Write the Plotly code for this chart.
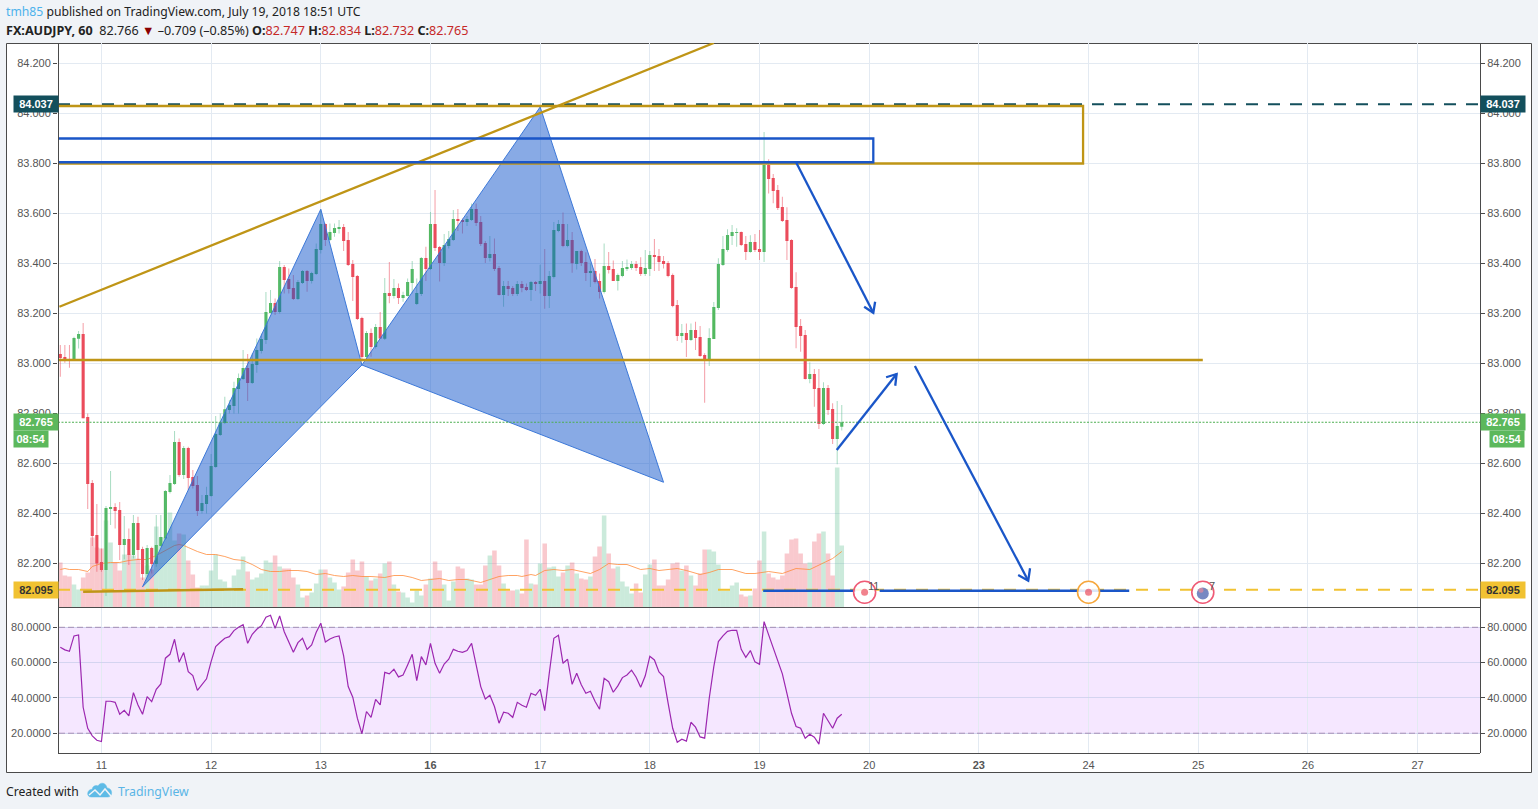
import plotly.graph_objects as go

# ---------- data ----------
OPEN = [83.038,83.026,83.018,83.014,83.099,83.118,82.786,82.522,82.314,82.206,
82.174,82.418,82.426,82.414,82.274,82.298,82.234,82.362,82.258,82.158,
82.262,82.198,82.27,82.3,82.486,82.518,82.686,82.554,82.662,82.546,
82.514,82.41,82.438,82.47,82.586,82.714,82.762,82.814,82.83,82.898,
82.938,82.982,82.922,82.994,83.05,83.094,83.202,83.242,83.206,83.386,
83.338,83.302,83.258,83.322,83.37,83.33,83.358,83.454,83.558,83.494,
83.522,83.538,83.546,83.494,83.398,83.35,83.182,83.026,83.122,83.066,
83.146,83.099,83.282,83.27,83.302,83.262,83.27,83.322,83.238,83.278,
83.422,83.378,83.558,83.466,83.402,83.47,83.494,83.578,83.574,83.566,
83.574,83.618,83.566,83.482,83.422,83.438,83.382,83.274,83.31,83.302,
83.278,83.318,83.306,83.294,83.326,83.318,83.33,83.27,83.346,83.53,
83.558,83.47,83.494,83.398,83.45,83.406,83.362,83.37,83.33,83.286,
83.39,83.378,83.33,83.35,83.378,83.382,83.398,83.386,83.358,83.378,
83.434,83.43,83.41,83.402,83.354,83.234,83.11,83.122,83.094,83.134,
83.106,83.034,83.017,83.098,83.222,83.394,83.454,83.51,83.524,83.526,
83.478,83.446,83.486,83.458,83.446,83.794,83.742,83.694,83.626,83.574,
83.494,83.306,83.15,83.114,82.938,82.958,82.902,82.758,82.902,82.818,
82.698,82.747]
CLOSE = [83.022,83.014,83.011,83.102,83.118,82.781,82.518,82.31,82.2,82.174,
82.422,82.426,82.41,82.274,82.298,82.234,82.362,82.254,82.158,82.262,
82.198,82.274,82.306,82.49,82.522,82.686,82.554,82.662,82.542,82.51,
82.41,82.442,82.474,82.59,82.718,82.765,82.817,82.834,82.902,82.942,
82.982,82.922,82.998,83.054,83.098,83.206,83.242,83.206,83.386,83.334,
83.298,83.258,83.326,83.37,83.33,83.362,83.458,83.558,83.494,83.526,
83.542,83.546,83.49,83.394,83.346,83.178,83.026,83.122,83.066,83.146,
83.1,83.282,83.27,83.302,83.262,83.274,83.326,83.378,83.282,83.422,
83.378,83.558,83.462,83.402,83.474,83.498,83.578,83.57,83.566,83.578,
83.618,83.562,83.478,83.422,83.438,83.378,83.274,83.31,83.298,83.278,
83.318,83.302,83.294,83.326,83.318,83.33,83.27,83.35,83.534,83.558,
83.47,83.494,83.401,83.45,83.402,83.362,83.37,83.326,83.286,83.39,
83.374,83.33,83.354,83.382,83.386,83.398,83.382,83.358,83.382,83.434,
83.426,83.406,83.398,83.35,83.23,83.11,83.122,83.094,83.134,83.102,
83.03,83.017,83.102,83.226,83.398,83.458,83.514,83.526,83.526,83.474,
83.446,83.486,83.454,83.446,83.794,83.738,83.69,83.622,83.57,83.49,
83.302,83.146,83.11,82.938,82.958,82.898,82.758,82.902,82.814,82.698,
82.75,82.765]
HIGH = [83.074,83.074,83.074,83.107,83.13,83.162,82.8,82.534,82.438,82.26,
82.43,82.57,82.441,82.446,82.39,82.34,82.394,82.387,82.267,82.274,
82.267,82.394,82.394,82.494,82.554,82.73,82.7,82.67,82.667,82.574,
82.55,82.474,82.507,82.638,82.79,82.8,82.867,82.854,82.927,82.96,
83.054,83.038,83.04,83.1,83.12,83.286,83.294,83.26,83.41,83.394,
83.38,83.354,83.334,83.374,83.374,83.367,83.48,83.616,83.56,83.56,
83.56,83.574,83.558,83.526,83.414,83.354,83.187,83.13,83.14,83.158,
83.206,83.342,83.406,83.338,83.32,83.287,83.34,83.41,83.34,83.426,
83.467,83.606,83.694,83.47,83.518,83.53,83.614,83.618,83.58,83.59,
83.64,83.64,83.59,83.49,83.51,83.5,83.39,83.33,83.33,83.31,
83.33,83.33,83.32,83.33,83.33,83.395,83.458,83.37,83.566,83.574,
83.604,83.558,83.526,83.45,83.455,83.445,83.4,83.418,83.36,83.48,
83.446,83.412,83.36,83.41,83.416,83.41,83.41,83.425,83.454,83.45,
83.498,83.458,83.43,83.41,83.36,83.254,83.158,83.16,83.16,83.167,
83.15,83.041,83.141,83.246,83.421,83.51,83.537,83.554,83.541,83.528,
83.51,83.513,83.518,83.534,83.926,83.817,83.758,83.714,83.667,83.625,
83.497,83.365,83.178,83.134,83.005,82.978,82.978,82.925,82.914,82.841,
82.85,82.834]
LOW = [82.947,83.003,82.983,83.011,83.06,82.781,82.418,82.27,82.167,82.167,
82.07,82.354,82.34,82.214,82.217,82.194,82.22,82.214,82.134,82.147,
82.16,82.187,82.267,82.294,82.48,82.514,82.547,82.538,82.494,82.5,
82.39,82.4,82.4,82.467,82.583,82.71,82.758,82.8,82.8,82.8,
82.934,82.85,82.918,82.963,83.04,83.078,83.2,83.194,83.2,83.28,
83.28,83.254,83.254,83.318,83.287,83.32,83.354,83.44,83.47,83.49,
83.507,83.52,83.45,83.39,83.25,83.174,83.014,83.02,83.027,83.06,
83.098,83.094,83.241,83.26,83.238,83.247,83.268,83.28,83.234,83.27,
83.33,83.374,83.45,83.328,83.39,83.46,83.49,83.53,83.52,83.55,
83.57,83.55,83.47,83.402,83.408,83.37,83.272,83.227,83.27,83.27,
83.27,83.285,83.29,83.25,83.29,83.28,83.219,83.222,83.34,83.525,
83.465,83.465,83.363,83.376,83.39,83.33,83.306,83.32,83.26,83.28,
83.36,83.33,83.292,83.345,83.37,83.375,83.37,83.35,83.35,83.35,
83.37,83.37,83.38,83.345,83.225,83.09,83.083,83.026,83.09,83.054,
83.027,82.843,82.99,83.211,83.214,83.39,83.447,83.474,83.467,83.47,
83.414,83.443,83.446,83.414,83.406,83.68,83.641,83.614,83.566,83.414,
83.299,83.061,83.047,82.936,82.921,82.827,82.738,82.754,82.794,82.678,
82.597,82.732]
VOLUME = [45,32,31,23,18,30,35,70,60,59,87,65,45,37,53,53,52,49,30,42,
38,81,70,70,95,67,74,73,47,33,20,22,22,37,53,28,26,20,32,38,
51,36,28,30,34,47,45,52,41,39,39,30,23,10,12,15,24,38,38,30,
25,18,21,35,48,37,46,31,27,29,34,44,46,23,16,15,10,5,17,12,
23,29,46,37,23,7,26,41,39,29,28,23,23,42,52,57,42,24,17,17,
18,14,68,24,23,44,64,40,41,31,35,42,45,34,29,28,31,51,61,92,
54,39,41,26,21,14,24,15,33,43,48,22,22,28,44,45,37,42,32,22,
34,58,58,56,43,17,17,22,25,13,11,12,19,47,76,34,30,28,32,54,
68,69,54,44,45,66,74,76,54,32,140,62]
VOL_MA_BARS = [0,1,2,4,6,7,9,11,13,15,17,19,21,23,25,26,27,28,30,32,34,36,38,40,42,44,46,48,50,52,54,56,58,60,62,64,66,
68,71,73,75,77,79,81,83,85,87,89,91,92,94,96,98,100,101,103,104,106,108,110,112,114,116,118,120,122,124,127,129,131,133,
135,137,140,142,144,147,150,152,155,158,161,164,167,169,171]
VOL_MA = [38,39,38,38,36,41,44,45,45,47,48,48,52,57,62,63,62,60,56,53,53,51,48,47,43,38,36,36,37,37,36,33,34,32,31,32,31,
31,30,32,32,30,27,28,29,27,28,28,26,25,28,31,32,32,31,33,32,37,38,37,38,36,34,38,44,43,43,38,39,37,38,
39,37,33,35,38,38,34,34,36,34,39,38,45,49,56]
RSI = [68.7,67.2,66.4,75.1,75.7,34.7,22.8,18.5,16,15.3,38.1,38.1,37.5,30.7,33,29.8,43,36,30.7,40.7,
37.9,44.9,47.9,62.5,64.7,73.2,60.2,65.7,54.9,52.6,44.3,47.4,50.8,60.6,69.1,71.5,73.8,74.7,78.1,80,
81.5,70.9,76,78.9,80.9,85.7,86.8,79.4,86.4,77.5,71.9,65.8,71.3,73.8,67.5,70,77.2,82.3,71.7,73.4,
74.5,75.1,63.8,46.4,40.4,28.5,19.6,32.3,29,39.2,36,54.5,53.6,56.2,51.9,53,58.7,64.7,49.8,63.4,
58.7,70.9,59.6,54,59.2,61.9,67.5,66.4,65.8,66.8,70.9,58.7,46.4,39.4,41.5,35.1,25.7,31.9,31.3,29,
37.5,35.8,34.7,42.6,41.5,44.9,32.8,54,73.8,75.5,59.6,61.9,47.7,54,47.4,42.6,43.8,38.1,33.6,51.1,
49.2,43.2,46.8,51.5,53,55.7,51.7,46,52.5,63.6,61.5,54.7,52.1,37,22.8,14.9,16.6,15.5,26.2,23.4,
17.9,17.2,39.8,57.7,71.9,75.1,77.7,78.3,78.3,67.5,63,66.8,60.4,59,83.2,75.7,68.1,60.6,53.6,42.6,
31.3,23.8,22.8,17.2,19.4,17.7,13.8,31.3,27.2,22.8,28.5,30.7]
assert all(len(a) == 172 for a in (OPEN, CLOSE, HIGH, LOW, VOLUME, RSI))
assert len(VOL_MA) == len(VOL_MA_BARS)

DAY_BARS = [9,33,57,81,105,129,153,177,201,225,249,273,297]
DAY_LABELS = ["11","12","13","<b>16</b>","17","18","19","20","<b>23</b>","24","25","26","27"]
PRICE_TICKS = [82.2,82.4,82.6,82.8,83.0,83.2,83.4,83.6,83.8,84.0,84.2]
RSI_TICKS = [20,40,60,80]

LAST_PRICE, ALERT_HIGH, ALERT_LOW = 82.765, 84.037, 82.095
HARMONIC_A_BARS, HARMONIC_A = [18,57,66,18], [82.107,83.617,82.994,82.107]
HARMONIC_B_BARS, HARMONIC_B = [66,105,132,66], [82.994,84.026,82.525,82.994]
GOLD_BOX_BARS, GOLD_BOX = [-40,223.8,223.8,-40], [84.03,84.03,83.8,83.8]
BLUE_BOX_BARS, BLUE_BOX = [-40,177.9,177.9,-40], [83.9,83.9,83.805,83.805]
TREND_BARS, TREND = [-0.2,143], [83.227,84.282]
GOLD_H_BARS, GOLD_H = [-1,250], [83.014,83.014]
GOLD_LOW_BARS, GOLD_LOW = [5,40], [82.087,82.097]
BLUE_H_BARS, BLUE_H = [153.8,174,None,179.3,233.9], [82.091,82.091,None,82.091,82.091]
ARROW1_BARS, ARROW1 = [161,177.9,None,175.9,177.9,178.3], [83.805,83.203,None,83.227,83.203,83.247]
ARROW2_BARS, ARROW2 = [169.9,183,None,180.7,183,182.7], [82.654,82.958,None,82.945,82.958,82.911]
ARROW3_BARS, ARROW3 = [187,211.8,None,209.6,211.8,212.2], [82.99,82.131,None,82.154,82.131,82.181]
EVENT_BARS, EVENT_PRICE = [176,225,250], [82.085,82.085,82.085]
EVENT_RINGS = ["#ef5a75","#f6a73c","#ef5a75"]
EVENT_CENTRE_BARS, EVENT_CENTRE_PRICE = [176,225,250,249.6], [82.085,82.085,82.08,82.093]
EVENT_CENTRE = ["#eb4d5c","#eb4d5c","#3f57a8","#e88a9c"]
EVENT_CENTRE_SIZE = [7,7,12,5]

# ---------- page geometry ----------
W, H = 1538, 809
L, R, T, B = 58, 1480, 43, 753
SPLIT = 607.5
def px(x): return (x - L) / (R - L)
def py(y): return (B - y) / (B - T)
BAR0, BAR_W = 60.3, 4.57
XR = [(L - BAR0) / BAR_W, (R - BAR0) / BAR_W]
P_PER_PX = 1 / 250
PR = [84.2 - (SPLIT - 63.5) * P_PER_PX, 84.2 + (63.5 - T) * P_PER_PX]
R_PER_PX = 20 / 35.33
RR = [20 - (B - 733.2) * R_PER_PX, 80 + (627.3 - (SPLIT + 0.5)) * R_PER_PX]

GREEN, RED = "#53b95f", "#eb4d5c"
GRID = "#e3eaf2"
FRAME = "#4a4a4a"
AXT = "#555555"
GOLD = "#bf9516"
BLUE = "#1a56c8"
TICKF = dict(family="Liberation Sans, Arial, sans-serif", size=11, color=AXT)

bars = list(range(172))
up = [c >= o for o, c in zip(OPEN, CLOSE)]
fig = go.Figure()

# volume (base axis, underneath)
fig.add_trace(go.Bar(x=bars, y=VOLUME, width=1, xaxis="x", yaxis="y", hoverinfo="skip",
    marker=dict(color=["rgba(83,185,135,0.3)" if u else "rgba(235,77,92,0.3)" for u in up], line_width=0)))
fig.add_trace(go.Scatter(x=VOL_MA_BARS, y=VOL_MA, mode="lines", xaxis="x", yaxis="y", hoverinfo="skip",
    line=dict(color="rgba(255,140,60,0.8)", width=1)))

# candles
for flag, col, wick in ((True, GREEN, "rgba(83,185,135,0.5)"), (False, RED, "rgba(235,77,92,0.55)")):
    idx = [i for i in bars if up[i] == flag]
    wx, wy = [], []
    for i in idx:
        wx += [i, i, None]
        wy += [LOW[i], HIGH[i], None]
    fig.add_trace(go.Scatter(x=wx, y=wy, mode="lines", xaxis="x", yaxis="y2", hoverinfo="skip",
                             line=dict(color=wick, width=1)))
    fig.add_trace(go.Bar(x=idx, y=[abs(CLOSE[i] - OPEN[i]) for i in idx],
                         base=[min(OPEN[i], CLOSE[i]) for i in idx], width=0.68,
                         xaxis="x", yaxis="y2", hoverinfo="skip", marker=dict(color=col, line_width=0)))

def line(xs, ys, color, width=2.3, dash=None):
    fig.add_trace(go.Scatter(x=xs, y=ys, mode="lines", xaxis="x", yaxis="y3", hoverinfo="skip",
                             line=dict(color=color, width=width, dash=dash)))

# drawings (top axis)
for xs, ys in ((HARMONIC_A_BARS, HARMONIC_A), (HARMONIC_B_BARS, HARMONIC_B)):
    fig.add_trace(go.Scatter(x=xs, y=ys, mode="lines", fill="toself", fillcolor="rgba(17,85,204,0.5)",
                             xaxis="x", yaxis="y3", hoverinfo="skip", line=dict(color="#3c78d8", width=1)))
line(XR, [ALERT_HIGH]*2, "#134f5c", 2, "12px,10px")
line(XR, [ALERT_LOW]*2, "#f1c232", 2, "12px,10px")
line(XR, [LAST_PRICE]*2, "#4caf50", 1, "2px,1.5px")
line(GOLD_BOX_BARS, GOLD_BOX, GOLD)
line(TREND_BARS, TREND, GOLD)
line(GOLD_H_BARS, GOLD_H, GOLD)
line(GOLD_LOW_BARS, GOLD_LOW, GOLD)
line(BLUE_BOX_BARS, BLUE_BOX, BLUE)
line(BLUE_H_BARS, BLUE_H, BLUE)
line(ARROW1_BARS, ARROW1, BLUE)
line(ARROW2_BARS, ARROW2, BLUE)
line(ARROW3_BARS, ARROW3, BLUE)

# event markers
fig.add_trace(go.Scatter(x=EVENT_BARS, y=EVENT_PRICE, mode="markers", xaxis="x", yaxis="y3", hoverinfo="skip",
    marker=dict(size=22, color="rgba(255,255,255,0.85)", line=dict(color=EVENT_RINGS, width=1.6))))
fig.add_trace(go.Scatter(x=EVENT_CENTRE_BARS, y=EVENT_CENTRE_PRICE, mode="markers", xaxis="x", yaxis="y3", hoverinfo="skip",
    marker=dict(size=EVENT_CENTRE_SIZE, color=EVENT_CENTRE, line_width=0)))

# RSI
fig.add_trace(go.Scatter(x=bars, y=RSI, mode="lines", xaxis="x2", yaxis="y4", hoverinfo="skip",
                         line=dict(color="#9c27b0", width=1.2)))
fig.add_trace(go.Scatter(x=[None], y=[None], xaxis="x2", yaxis="y5", hoverinfo="skip"))

xcommon = dict(range=XR, tickmode="array", tickvals=DAY_BARS, ticktext=DAY_LABELS, showgrid=True, gridcolor=GRID,
               gridwidth=1, zeroline=False, showline=False, automargin=False, tickfont=TICKF, ticks="outside",
               ticklen=2, tickcolor="rgba(0,0,0,0)", fixedrange=True)
ycommon = dict(zeroline=False, showline=False, automargin=False, tickfont=TICKF, ticks="outside", ticklen=4,
               tickcolor=FRAME, tickwidth=1, fixedrange=True)
main_dom = [py(SPLIT), 1]
rsi_dom = [0, py(SPLIT + 0.5)]

shapes = [
    dict(type="rect", xref="paper", yref="paper", x0=px(6.5), x1=px(1531.5), y0=py(772.5), y1=py(43.5),
         fillcolor="white", line=dict(color=FRAME, width=1), layer="below"),
    dict(type="rect", xref="paper", yref="y4", x0=px(59), x1=1, y0=20, y1=80,
         fillcolor="rgba(153,21,255,0.1)", line_width=0, layer="below"),
]
for lv in (20, 80):
    shapes.append(dict(type="line", xref="paper", yref="y4", x0=px(59), x1=1, y0=lv, y1=lv,
                       line=dict(color="rgba(120,80,130,0.55)", width=1, dash="6px,3px"), layer="above"))
for x0, y0, x1, y1 in ((L + .5, 43.5, L + .5, 753), (R + .5, 43.5, R + .5, 753),
                       (L, 753.5, R, 753.5), (L, SPLIT, R, SPLIT)):
    shapes.append(dict(type="line", xref="paper", yref="paper", x0=px(x0), x1=px(x1), y0=py(y0), y1=py(y1),
                       line=dict(color=FRAME, width=1), layer="above"))
# logo: rounded cloud with a pale zigzag through it
def P(a, b): return f"{px(a):.5f},{py(b):.5f}"
path = (f"M {P(91,797)} C {P(86,797)} {P(87,789)} {P(92,789.5)} C {P(93,785)} {P(97,785)} {P(98,786)} "
        f"C {P(100,782)} {P(106,782)} {P(107,788)} C {P(113,788)} {P(113,797)} {P(108,797)} Z")
shapes.append(dict(type="path", xref="paper", yref="paper", path=path, fillcolor="#5ebbe6", line=dict(color="#5ebbe6", width=0.5)))
zig = [(89,795),(95,790),(100,795),(105,789),(111,796)]
path = "M " + " L ".join(P(a, b) for a, b in zig)
shapes.append(dict(type="path", xref="paper", yref="paper", path=path, line=dict(color="#f0f3f7", width=1.5)))

TXT = "Noto Sans, Open Sans, sans-serif"
ann = []
def text(x, y, s, size=12.2, color="#222222", family=TXT):
    ann.append(dict(xref="paper", yref="paper", x=px(x), y=py(y), text=s, showarrow=False, xanchor="left",
                    yanchor="middle", font=dict(family=family, size=size, color=color), align="left"))
RV = "#c62828"
text(4, 11, '<span style="color:#4db2ec">tmh85</span> published on TradingView.com, July 19, 2018 18:51 UTC')
text(4, 30, f'<b>FX:AUDJPY, 60</b>  82.766 <span style="color:#8b0000">▼</span> –0.709 (–0.85%) '
     f'<b>O:</b><span style="color:{RV}">82.747</span> <b>H:</b><span style="color:{RV}">82.834</span> '
     f'<b>L:</b><span style="color:{RV}">82.732</span> <b>C:</b><span style="color:{RV}">82.765</span>', size=12.6)
text(4, 791, "Created with")
text(116, 791, "TradingView", color="#5ab5e6", size=12.3)

def tag(xc, price, s, bg, fg="white", w=44, h=16, shift=0):
    ann.append(dict(xref="paper", yref="y3", x=px(xc), y=price, text=f"<b>{s}</b>", showarrow=False, xanchor="center",
                    yanchor="middle", yshift=shift, bgcolor=bg, width=w, height=h, borderpad=0,
                    font=dict(family="Liberation Sans, Arial, sans-serif", size=11, color=fg)))
for xc in (35.5, 1503):
    tag(xc, ALERT_HIGH, "84.037", "#134f5c")
    tag(xc, LAST_PRICE, "82.765", "#5cb85c")
    tag(xc, ALERT_LOW, "82.095", "#f1c232", fg="#333333")
tag(31, LAST_PRICE, "08:54", "#5cb85c", w=34, h=16, shift=-17)
tag(1507, LAST_PRICE, "08:54", "#5cb85c", w=34, h=16, shift=-17)
for b, s in ((176, "11"), (250, "7")):
    ann.append(dict(xref="x", yref="y3", x=b, y=EVENT_PRICE[0], text=s, showarrow=False, xanchor="center",
                    yanchor="middle", xshift=9, yshift=6.5, font=dict(family="Liberation Sans", size=11, color="#555555")))

fig.update_layout(
    width=W, height=H, autosize=False, template="none", showlegend=False, barmode="overlay",
    margin=dict(l=L, r=W - R, t=T, b=H - B, pad=0),
    paper_bgcolor="#f0f3f7", plot_bgcolor="rgba(0,0,0,0)",
    xaxis=dict(domain=[0, 1], anchor="y", showticklabels=False, **xcommon),
    xaxis2=dict(domain=[0, 1], anchor="y4", showticklabels=True, **xcommon),
    yaxis=dict(domain=main_dom, anchor="x", range=[0, SPLIT - T], showgrid=False, showticklabels=False,
               zeroline=False, automargin=False, fixedrange=True),
    yaxis2=dict(overlaying="y", anchor="x", side="left", range=PR, tickmode="array", tickvals=PRICE_TICKS,
                tickformat=".3f", showgrid=True, gridcolor=GRID, gridwidth=1, **ycommon),
    yaxis3=dict(overlaying="y", anchor="x", side="right", range=PR, tickmode="array", tickvals=PRICE_TICKS,
                tickformat=".3f", showgrid=False, **ycommon),
    yaxis4=dict(domain=rsi_dom, anchor="x2", side="left", range=RR, tickmode="array", tickvals=RSI_TICKS,
                tickformat=".4f", showgrid=True, gridcolor="rgba(200,205,235,0.75)", gridwidth=1, **ycommon),
    yaxis5=dict(overlaying="y4", anchor="x2", side="right", range=RR, tickmode="array", tickvals=RSI_TICKS,
                tickformat=".4f", showgrid=False, **ycommon),
    shapes=shapes, annotations=ann,
)
fig.write_html("out.html", config={"displayModeBar": False},
               post_script="document.body.style.margin='0';document.documentElement.style.overflow='hidden';")
